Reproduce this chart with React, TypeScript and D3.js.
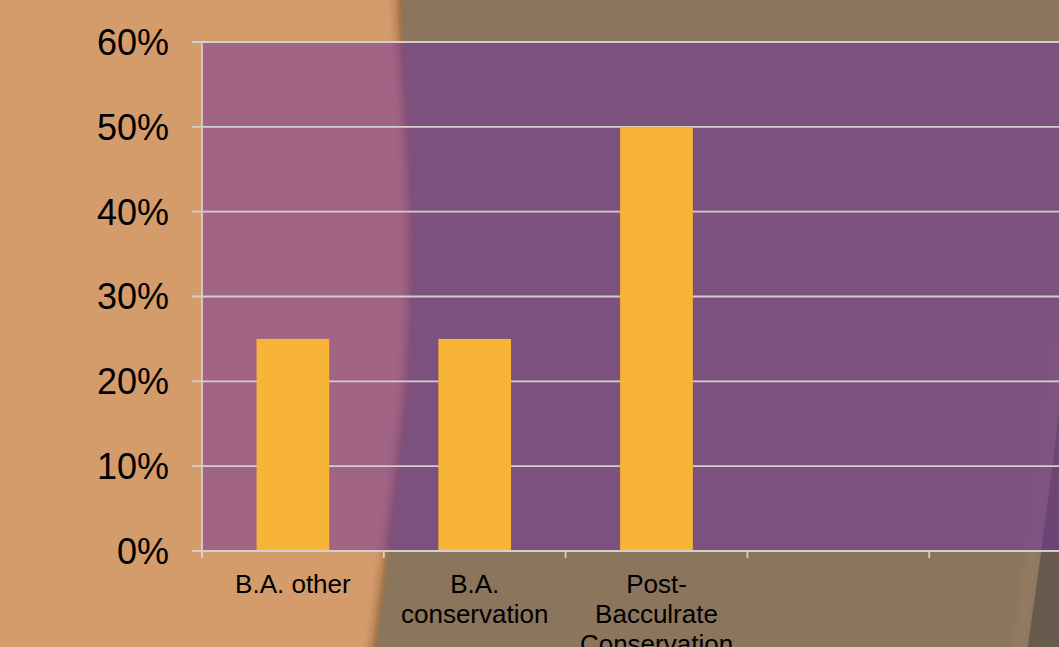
import React from "react";
import * as d3 from "d3";

// Survey results: share of respondents by degree background
const categories: string[] = [
  "B.A. other",
  "B.A. conservation",
  "Post-Bacculrate Conservation",
  "",
  "",
];
const shares: (number | null)[] = [0.25, 0.25, 0.5, null, null];
const yTicks: number[] = [0, 0.1, 0.2, 0.3, 0.4, 0.5, 0.6];

const W = 1059;
const H = 647;
const FONT = "'Liberation Sans', Arial, Helvetica, sans-serif";

// Decorative slide backdrop edges
const seamPts: [number, number][] = [
  [401, -10], [403, 42], [410, 150], [413, 260], [409, 380], [398, 480], [388, 560], [375, 660],
];
const cornerPts: [number, number][] = [
  [1063, 340], [1058, 420], [1048, 500], [1040, 560], [1026, 660],
];

function wrapLabel(text: string, maxWidth: number, font: string): string[] {
  if (!text) return [];
  const canvas = document.createElement("canvas");
  const ctx = canvas.getContext("2d")!;
  ctx.font = font;
  // split on spaces, and after hyphens
  const tokens: string[] = [];
  text.split(" ").forEach((w, i, arr) => {
    const parts = w.split(/(?<=-)/);
    parts.forEach((p, j) => {
      const last = j === parts.length - 1 && i < arr.length - 1;
      tokens.push(last ? p + " " : p);
    });
  });
  const lines: string[] = [];
  let cur = "";
  tokens.forEach((t) => {
    const trial = cur + t;
    if (cur && ctx.measureText(trial.trimEnd()).width > maxWidth) {
      lines.push(cur.trimEnd());
      cur = t;
    } else {
      cur = trial;
    }
  });
  if (cur) lines.push(cur.trimEnd());
  return lines;
}

export default function App() {
  const plotLeft = 202;
  const plotTop = 42;
  const plotBottom = 551;
  const step = 181.8;

  const x = d3
    .scaleBand<number>()
    .domain(categories.map((_, i) => i))
    .range([plotLeft, plotLeft + step * categories.length])
    .paddingInner(0.6)
    .paddingOuter(0.3);

  const y = d3.scaleLinear().domain([0, 0.6]).range([plotBottom, plotTop]);
  const pct = d3.format(".0%");

  const plotRight = plotLeft + step * categories.length;

  const curve = d3.line().curve(d3.curveCatmullRom.alpha(0.5));
  const seam = curve(seamPts)!;
  const brownPath = `${seam} L ${W + 20} ${H + 20} L ${W + 20} -20 Z`;
  const corner = curve(cornerPts)!;
  const cornerPath = `${corner} L ${W + 20} ${H + 20} Z`;

  const xFont = `26px ${FONT}`;

  return (
    <svg
      width={W}
      height={H}
      style={{ position: "fixed", left: 0, top: 0, display: "block" }}
      fontFamily={FONT}
    >
      <defs>
        <filter id="seamShadow" x="-20%" y="-20%" width="140%" height="140%">
          <feDropShadow dx={-4} dy={0} stdDeviation={5} floodColor="#3a2210" floodOpacity={0.45} />
        </filter>
        <filter id="soft" x="-50%" y="-50%" width="200%" height="200%">
          <feGaussianBlur stdDeviation={5} />
        </filter>
        <clipPath id="brownClip">
          <path d={brownPath} />
        </clipPath>
      </defs>

      {/* backdrop */}
      <rect x={0} y={0} width={W} height={H} fill="#d49b6b" />
      <path d={brownPath} fill="#8b745b" filter="url(#seamShadow)" />
      <g clipPath="url(#brownClip)">
        <path d={corner} fill="none" stroke="#9a8068" strokeWidth={14} filter="url(#soft)" transform="translate(-8,0)" opacity={0.6} />
      </g>
      <path d={cornerPath} fill="#685b4d" />

      {/* plot area */}
      <rect
        x={plotLeft}
        y={plotTop}
        width={plotRight - plotLeft}
        height={plotBottom - plotTop}
        fill="#6f309e"
        fillOpacity={0.51}
      />

      {/* gridlines */}
      {yTicks.map((t) => (
        <line
          key={`g${t}`}
          x1={plotLeft - 10}
          x2={plotRight}
          y1={y(t)}
          y2={y(t)}
          stroke="#d3cfcf"
          strokeWidth={1.8}
        />
      ))}

      {/* bars */}
      {shares.map((v, i) =>
        v == null ? null : (
          <rect
            key={`b${i}`}
            x={x(i)}
            y={y(v)}
            width={x.bandwidth()}
            height={y(0) - y(v)}
            fill="#f8b437"
          />
        )
      )}

      {/* axes */}
      <line x1={plotLeft} x2={plotLeft} y1={plotTop} y2={plotBottom + 7} stroke="#d3cfcf" strokeWidth={1.8} />
      <line x1={plotLeft - 10} x2={plotRight} y1={plotBottom} y2={plotBottom} stroke="#d3cfcf" strokeWidth={1.8} />
      {d3.range(categories.length + 1).map((i) => (
        <line
          key={`xt${i}`}
          x1={plotLeft + step * i}
          x2={plotLeft + step * i}
          y1={plotBottom}
          y2={plotBottom + 7}
          stroke="#d3cfcf"
          strokeWidth={1.8}
        />
      ))}

      {/* y labels */}
      {yTicks.map((t) => (
        <text
          key={`yl${t}`}
          x={169}
          y={y(t)}
          dy="0.36em"
          textAnchor="end"
          fontSize={36}
          fill="#000"
        >
          {pct(t)}
        </text>
      ))}

      {/* x labels */}
      {categories.map((c, i) => {
        const lines = wrapLabel(c, step * 0.95, xFont);
        const cx = (x(i) ?? 0) + x.bandwidth() / 2;
        return (
          <text key={`xl${i}`} x={cx} y={plotBottom + 42} textAnchor="middle" fontSize={26} fill="#000">
            {lines.map((ln, k) => (
              <tspan key={k} x={cx} dy={k === 0 ? 0 : 30}>
                {ln}
              </tspan>
            ))}
          </text>
        );
      })}
    </svg>
  );
}
